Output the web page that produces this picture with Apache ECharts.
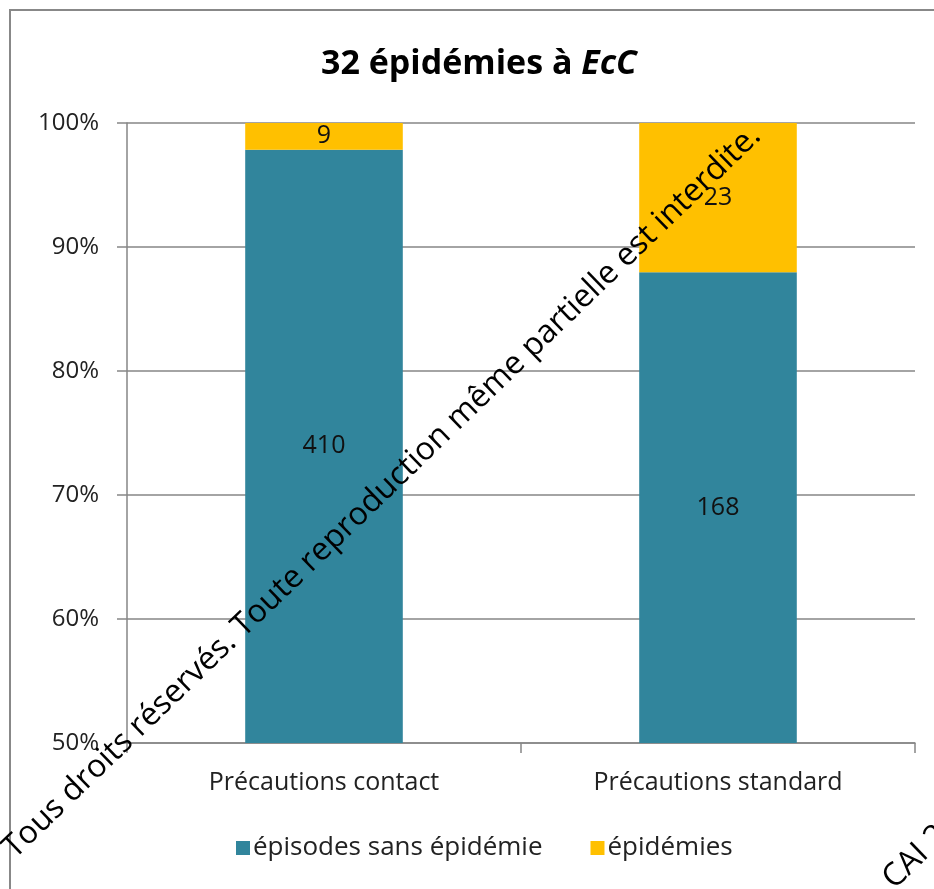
<!DOCTYPE html>
<html>
<head>
<meta charset="utf-8">
<script src="https://cdn.jsdelivr.net/npm/echarts@6/dist/echarts.min.js"></script>
<style>html,body{margin:0;padding:0;background:#fff;}#c{width:934px;height:889px;}</style>
</head>
<body>
<div id="c"></div>
<script>
const categories = ['Précautions contact', 'Précautions standard'];
const seriesNames = ['épisodes sans épidémie', 'épidémies'];
const sansEpidemie = [410, 168];
const epidemies = [9, 23];
const yTicks = [50, 60, 70, 80, 90, 100];

const totals = categories.map((c, i) => sansEpidemie[i] + epidemies[i]);
const pctSans = sansEpidemie.map((v, i) => v / totals[i] * 100);
const pctEpi = epidemies.map((v, i) => v / totals[i] * 100);

const FONT = '"Open Sans", "Liberation Sans", sans-serif';
const chart = echarts.init(document.getElementById('c'));
chart.setOption({
  animation: false,
  backgroundColor: '#fff',
  title: {
    text: '{b|32 épidémies à }{i|EcC}',
    left: 316,
    top: 42,
    textStyle: {
      rich: {
        b: { fontFamily: FONT, fontSize: 34, fontWeight: 'bold', color: '#000' },
        i: { fontFamily: FONT, fontSize: 34, fontWeight: 'bold', fontStyle: 'italic', color: '#000' }
      }
    }
  },
  legend: {
    left: 231,
    top: 830,
    itemWidth: 14,
    itemHeight: 14,
    itemGap: 48,
    icon: 'rect',
    textStyle: { fontFamily: FONT, fontSize: 26, color: '#222', padding: [0, 0, 0, -2] },
    data: seriesNames
  },
  grid: { left: 127, right: 19, top: 123, bottom: 146 },
  xAxis: {
    type: 'category',
    data: categories,
    axisLine: { lineStyle: { color: '#868686', width: 1.5 } },
    axisTick: { show: true, length: 10, lineStyle: { color: '#868686', width: 1.5 } },
    axisLabel: { fontFamily: FONT, fontSize: 25, color: '#222', margin: 27 }
  },
  yAxis: {
    type: 'value',
    min: 50,
    max: 100,
    interval: 10,
    axisLine: { show: true, lineStyle: { color: '#868686', width: 1.5 } },
    axisTick: { show: true, length: 10, lineStyle: { color: '#868686', width: 1.5 } },
    splitLine: { lineStyle: { color: '#868686', width: 1.5 } },
    axisLabel: {
      fontFamily: FONT, fontSize: 24, color: '#222', margin: 28,
      formatter: v => yTicks.includes(v) ? v + '%' : ''
    }
  },
  series: [
    {
      name: seriesNames[0],
      type: 'bar',
      stack: 'total',
      barCategoryGap: '60%',
      data: pctSans,
      itemStyle: { color: '#31859C' },
      label: {
        show: true, position: 'inside', fontFamily: FONT, fontSize: 25, color: '#111',
        formatter: p => sansEpidemie[p.dataIndex]
      }
    },
    {
      name: seriesNames[1],
      type: 'bar',
      stack: 'total',
      barCategoryGap: '60%',
      data: pctEpi,
      itemStyle: { color: '#FFC000' },
      label: {
        show: true, position: 'inside', fontFamily: FONT, fontSize: 25, color: '#111',
        formatter: p => epidemies[p.dataIndex]
      }
    }
  ],
  graphic: [
    {
      type: 'rect', silent: true, z: 0,
      shape: { x: 10, y: 10, width: 960, height: 920 },
      style: { fill: 'none', stroke: '#888', lineWidth: 2 }
    },
    {
      type: 'text', z: 100,
      x: 382, y: 492,
      rotation: 44 * Math.PI / 180,
      style: {
        text: 'Tous droits réservés. Toute reproduction même partielle est interdite.',
        fontFamily: FONT, fontSize: 32, fill: '#000',
        align: 'center', verticalAlign: 'middle'
      }
    },
    {
      type: 'text', z: 100,
      x: 935, y: 838,
      rotation: 44 * Math.PI / 180,
      style: {
        text: 'CAI 2018',
        fontFamily: FONT, fontSize: 32, fill: '#000',
        align: 'center', verticalAlign: 'middle'
      }
    }
  ]
});
</script>
</body>
</html>
